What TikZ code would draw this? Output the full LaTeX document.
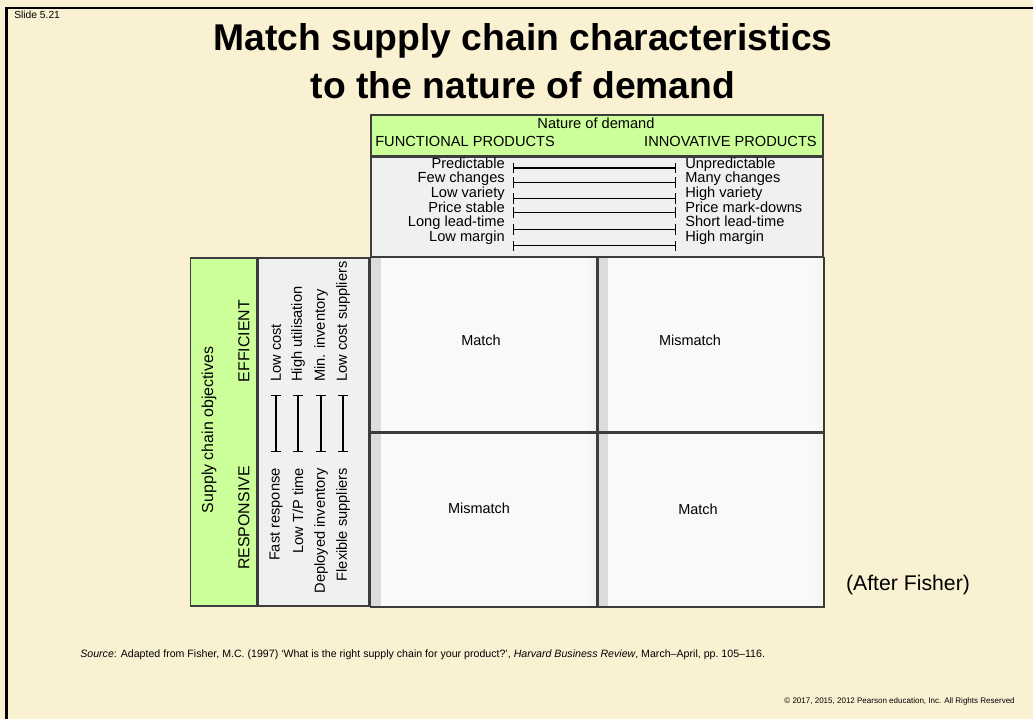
\documentclass[tikz,border=0pt]{standalone}
\usepackage{fontspec}
\setmainfont{Liberation Sans}
\usepackage{tikz}
\definecolor{slidebg}{RGB}{250,240,210}
\definecolor{lightgreen}{RGB}{204,255,153}
\definecolor{panelgrey}{RGB}{240,240,240}
\definecolor{cellgrey}{RGB}{249,249,249}
\definecolor{edgegrey}{RGB}{60,60,60}
\usetikzlibrary{positioning}
\tikzstyle{greenbox} = [draw=edgegrey, line width=1.1pt, fill=lightgreen, rectangle, inner sep=0pt]
\tikzstyle{greybox} = [draw=edgegrey, line width=1.1pt, fill=panelgrey, rectangle, inner sep=0pt]
\tikzstyle{cell} = [draw=edgegrey, line width=0.9pt, fill=cellgrey, rectangle, inner sep=0pt,
    minimum width=5.65cm, minimum height=4.35cm,
    path picture={\shade[left color=gray!28, right color=cellgrey]
        (path picture bounding box.north west) rectangle ([xshift=7pt]path picture bounding box.south west);
      \shade[left color=cellgrey, right color=gray!12]
        ([xshift=-7pt]path picture bounding box.north east) rectangle (path picture bounding box.south east);}]
\tikzstyle{rowtext} = [inner sep=0pt, text height=7.4pt, text depth=2.56pt, font=\fontsize{10.4}{12}\selectfont]
\tikzstyle{coltext} = [rotate=90, inner sep=0pt, font=\fontsize{10.4}{12}\selectfont]
\tikzstyle{axistext} = [rotate=90, inner sep=0pt, font=\fontsize{11.3}{13}\selectfont]
\tikzstyle{celltext} = [inner sep=0pt, font=\fontsize{10.3}{12}\selectfont]
\tikzstyle{bar} = [|-|, line width=0.9pt]

\begin{document}
\begin{tikzpicture}[x=0.025cm, y=-0.025cm]
    % Slide background and frame
    \fill[slidebg] (0,0) rectangle (1033,719);
    \useasboundingbox (0,0) rectangle (1033,719);
    \draw[line width=1.7pt] (6.5,719) -- (6.5,8) -- (1033,8);
    \node[anchor=west, inner sep=0pt, font=\fontsize{7.3}{9}\selectfont] (slideno) at (14,15) {Slide 5.21};
    \node[align=center, font=\fontsize{26.5}{34}\selectfont\bfseries] (title) at (523,61)
        {Match supply chain characteristics\\to the nature of demand};

    % Place the blocks
    \node[greenbox, anchor=north west, minimum width=11.3cm, minimum height=1.025cm] (demand) at (370,114) {};
    \node[greybox, below=0pt of demand, minimum width=11.3cm, minimum height=2.475cm] (traits) {};
    \node[greybox, anchor=north east, minimum width=2.775cm, minimum height=8.7cm] (means) at (traits.south west) {};
    \node[greenbox, left=0pt of means, minimum width=1.65cm, minimum height=8.7cm] (objectives) {};
    \node[cell, below=0pt of traits.south west, anchor=north west] (c11) {};
    \node[cell, right=0pt of c11] (c12) {};
    \node[cell, below=0pt of c11] (c21) {};
    \node[cell, right=0pt of c21] (c22) {};

    % Demand header
    \node[inner sep=0pt, font=\fontsize{10.4}{12}\selectfont] (nature) at (596,123) {Nature of demand};
    \node[rowtext, anchor=west] (functional) at (375,143) {FUNCTIONAL PRODUCTS};
    \node[rowtext, anchor=east] (innovative) at (817,143) {INNOVATIVE PRODUCTS};

    % Product traits
    \node[rowtext, anchor=east] (pl1) at (505,165) {Predictable};
    \node[rowtext, below=0pt of pl1.south east, anchor=north east] (pl2) {Few changes};
    \node[rowtext, below=0pt of pl2.south east, anchor=north east] (pl3) {Low variety};
    \node[rowtext, below=0pt of pl3.south east, anchor=north east] (pl4) {Price stable};
    \node[rowtext, below=0pt of pl4.south east, anchor=north east] (pl5) {Long lead-time};
    \node[rowtext, below=0pt of pl5.south east, anchor=north east] (pl6) {Low margin};
    \node[rowtext, anchor=west] (pr1) at (685,165) {Unpredictable};
    \node[rowtext, below=0pt of pr1.south west, anchor=north west] (pr2) {Many changes};
    \node[rowtext, below=0pt of pr2.south west, anchor=north west] (pr3) {High variety};
    \node[rowtext, below=0pt of pr3.south west, anchor=north west] (pr4) {Price mark-downs};
    \node[rowtext, below=0pt of pr4.south west, anchor=north west] (pr5) {Short lead-time};
    \node[rowtext, below=0pt of pr5.south west, anchor=north west] (pr6) {High margin};

    % Supply chain objectives
    \node[axistext] (objtitle) at (209,430) {Supply chain objectives};
    \node[axistext] (responsive) at (244,518) {RESPONSIVE};
    \node[axistext] (efficient) at (244,341) {EFFICIENT};
    \node[coltext, anchor=west] (ct1) at (276,382) {Low cost};
    \node[coltext, anchor=west] (ct2) at (298,382) {High utilisation};
    \node[coltext, anchor=west] (ct3) at (321,382) {Min. inventory};
    \node[coltext, anchor=west] (ct4) at (343,382) {Low cost suppliers};
    \node[coltext, anchor=east] (cb1) at (276,468) {Fast response};
    \node[coltext, anchor=east] (cb2) at (298,468) {Low T/P time};
    \node[coltext, anchor=east] (cb3) at (321,468) {Deployed inventory};
    \node[coltext, anchor=east] (cb4) at (343,468) {Flexible suppliers};

    % Matrix entries
    \node[celltext] (m11) at (481,340) {Match};
    \node[celltext] (m12) at (690,340) {Mismatch};
    \node[celltext] (m21) at (479,508) {Mismatch};
    \node[celltext] (m22) at (698,509) {Match};
    \node[inner sep=0pt, font=\fontsize{15.1}{18}\selectfont] (after) at (908,585) {(After Fisher)};

    % Connect the nodes
    \draw[bar] ([xshift=5.7pt, yshift=-2.2pt]pl1.east) -- ([xshift=-6.4pt, yshift=-2.2pt]pr1.west);
    \draw[bar] ([xshift=5.7pt, yshift=-2.2pt]pl2.east) -- ([xshift=-6.4pt, yshift=-2.2pt]pr2.west);
    \draw[bar] ([xshift=5.7pt, yshift=-2.9pt]pl3.east) -- ([xshift=-6.4pt, yshift=-2.9pt]pr3.west);
    \draw[bar] ([xshift=5.7pt, yshift=-2.9pt]pl4.east) -- ([xshift=-6.4pt, yshift=-2.9pt]pr4.west);
    \draw[bar] ([xshift=5.7pt, yshift=-4.3pt]pl5.east) -- ([xshift=-6.4pt, yshift=-4.3pt]pr5.west);
    \draw[bar] ([xshift=5.7pt, yshift=-5.7pt]pl6.east) -- ([xshift=-6.4pt, yshift=-5.7pt]pr6.west);
    \draw[bar] ([yshift=-9.2pt]ct1.west) -- ([yshift=11.4pt]cb1.east);
    \draw[bar] ([yshift=-9.2pt]ct2.west) -- ([yshift=11.4pt]cb2.east);
    \draw[bar] ([yshift=-9.2pt]ct3.west) -- ([yshift=11.4pt]cb3.east);
    \draw[bar] ([yshift=-9.2pt]ct4.west) -- ([yshift=11.4pt]cb4.east);

    % Footer
    \node[anchor=west, inner sep=0pt, font=\fontsize{7.55}{9}\selectfont] (source) at (80,655)
        {\textit{Source}: Adapted from Fisher, M.C. (1997) `What is the right supply chain for your product?', \textit{Harvard Business Review}, March--April, pp.~105--116.};
    \node[anchor=east, inner sep=0pt, font=\fontsize{5.7}{8}\selectfont] (copyright) at (1015,701)
        {© 2017, 2015, 2012 Pearson education, Inc. All Rights Reserved};
\end{tikzpicture}
\end{document}
